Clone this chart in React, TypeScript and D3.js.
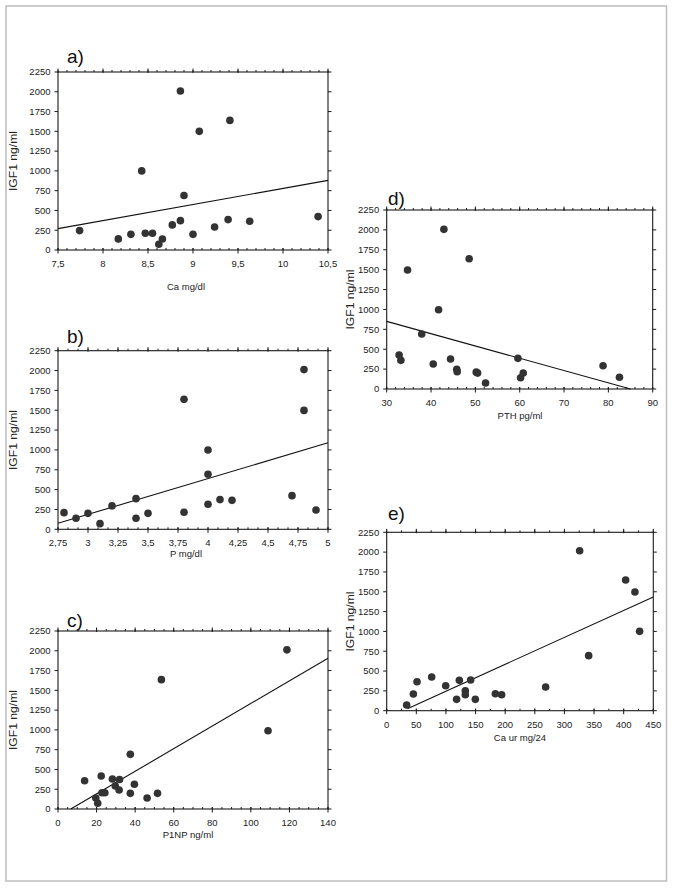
import React from "react";
import * as d3 from "d3";

// IGF1 (ng/ml) vs. each variable
const caX = [7.74, 8.17, 8.31, 8.43, 8.47, 8.55, 8.62, 8.66, 8.77, 8.86, 8.86, 8.9, 9.0, 9.07, 9.24, 9.39, 9.41, 9.63, 10.39];
const caY = [245, 140, 198, 1000, 211, 211, 72, 139, 317, 2010, 371, 688, 198, 1500, 291, 384, 1638, 363, 422];
const caFit = [[7.5, 270], [10.5, 880]];

const pX = [2.8, 2.9, 3.0, 3.1, 3.2, 3.4, 3.4, 3.5, 3.8, 3.8, 4.0, 4.0, 4.0, 4.1, 4.2, 4.7, 4.8, 4.8, 4.9];
const pY = [210, 139, 201, 71, 295, 386, 139, 201, 1637, 214, 999, 693, 315, 374, 365, 424, 2012, 1498, 243];
const pFit = [[2.75, 75], [5, 1090]];

const p1npX = [13.8, 19.6, 20.6, 22.4, 22.8, 24.3, 28.2, 29.7, 31.9, 31.7, 37.5, 37.5, 39.6, 46.2, 51.6, 53.6, 108.9, 118.7];
const p1npY = [358, 139, 72, 417, 206, 206, 379, 291, 372, 240, 691, 198, 312, 139, 198, 1635, 990, 2012];
const p1npFit = [[6.6, 0], [140, 1905]];

const pthX = [32.8, 33.2, 34.7, 37.9, 40.5, 41.7, 42.9, 44.4, 45.8, 45.9, 48.6, 50.2, 50.5, 52.3, 59.6, 60.2, 60.8, 78.8, 82.5];
const pthY = [427, 360, 1496, 691, 314, 997, 2007, 377, 247, 218, 1638, 212, 200, 75, 385, 142, 201, 293, 147];
const pthFit = [[30, 850], [85, 0]];

const caurX = [33.7, 45, 51.2, 75.9, 99.6, 118, 122.6, 132.7, 132.7, 141.7, 149.6, 183.4, 194, 268.3, 325.7, 340.9, 403.3, 419, 426.9];
const caurY = [71, 210, 366, 425, 315, 143, 383, 252, 202, 387, 143, 214, 202, 299, 2018, 694, 1648, 1497, 1001];
const caurFit = [[35, 25], [450, 1435]];

const yTicks = [0, 250, 500, 750, 1000, 1250, 1500, 1750, 2000, 2250];
const caTicks = ["7,5", "8", "8,5", "9", "9,5", "10", "10,5"];
const pTicks = ["2,75", "3", "3,25", "3,5", "3,75", "4", "4,25", "4,5", "4,75", "5"];
const p1npTicks = ["0", "20", "40", "60", "80", "100", "120", "140"];
const pthTicks = ["30", "40", "50", "60", "70", "80", "90"];
const caurTicks = ["0", "50", "100", "150", "200", "250", "300", "350", "400", "450"];

const FONT = "'Liberation Sans', Arial, Helvetica, sans-serif";

type PanelProps = {
  letter: string;
  xs: number[];
  ys: number[];
  fit: number[][];
  tickLabels: string[];
  minorPer: number;
  xLabel: string;
  box: { x0: number; x1: number; y0: number; y1: number };
  letterPos: [number, number];
  xLabelPos: [number, number];
  yLabelX: number;
};

function parseTick(s: string) {
  return parseFloat(s.replace(",", "."));
}

function Panel(p: PanelProps) {
  const vals = p.tickLabels.map(parseTick);
  const xMin = vals[0];
  const xMax = vals[vals.length - 1];
  const x = d3.scaleLinear().domain([xMin, xMax]).range([p.box.x0, p.box.x1]);
  const y = d3.scaleLinear().domain([0, 2250]).range([p.box.y1, p.box.y0]);
  const nMinor = (vals.length - 1) * p.minorPer;
  const minor = d3.range(nMinor + 1).map((i) => xMin + ((xMax - xMin) * i) / nMinor);
  const line = d3.line<number[]>().x((d) => x(d[0])).y((d) => y(d[1]));
  const { x0, x1, y0, y1 } = p.box;
  const ink = "#1a1a1a";
  return (
    <g fontFamily={FONT}>
      <text x={p.letterPos[0]} y={p.letterPos[1]} fontSize={19} fill="#111">{p.letter}</text>
      <rect x={x0} y={y0} width={x1 - x0} height={y1 - y0} fill="none" stroke={ink} strokeWidth={1.1} />
      {minor.map((v, i) => (
        <g key={"m" + i}>
          <line x1={x(v)} x2={x(v)} y1={y0} y2={y0 - 2} stroke={ink} strokeWidth={1} />
          <line x1={x(v)} x2={x(v)} y1={y1} y2={y1 - 2} stroke={ink} strokeWidth={1} />
        </g>
      ))}
      {vals.map((v, i) => (
        <g key={"M" + i}>
          <line x1={x(v)} x2={x(v)} y1={y0 + 1} y2={y0 - 3.5} stroke={ink} strokeWidth={1} />
          <line x1={x(v)} x2={x(v)} y1={y1 - 2} y2={y1 + 3.5} stroke={ink} strokeWidth={1} />
          <text x={x(v)} y={y1 + 13.5} dy="0.35em" textAnchor="middle" fontSize={9.5} fill="#222">
            {p.tickLabels[i]}
          </text>
        </g>
      ))}
      {yTicks.map((v) => (
        <g key={"y" + v}>
          <line x1={x0 - 3.5} x2={x0} y1={y(v)} y2={y(v)} stroke={ink} strokeWidth={1} />
          <line x1={x1} x2={x1 + 3.5} y1={y(v)} y2={y(v)} stroke={ink} strokeWidth={1} />
          <text x={x0 - 7.5} y={y(v)} dy="0.35em" textAnchor="end" fontSize={9.5} fill="#222">
            {v}
          </text>
        </g>
      ))}
      <path d={line(p.fit) || ""} fill="none" stroke="#111" strokeWidth={1.1} />
      {p.xs.map((v, i) => (
        <circle key={"c" + i} cx={x(v)} cy={y(p.ys[i])} r={3.8} fill="#333" />
      ))}
      <text x={p.xLabelPos[0]} y={p.xLabelPos[1]} textAnchor="middle" fontSize={9.5} fill="#222">
        {p.xLabel}
      </text>
      <text
        transform={`translate(${p.yLabelX},${(y0 + y1) / 2}) rotate(-90)`}
        dy="0.35em"
        textAnchor="middle"
        fontSize={10}
        textLength={60}
        lengthAdjust="spacingAndGlyphs"
        fill="#222"
      >
        IGF1 ng/ml
      </text>
    </g>
  );
}

export default function App() {
  return (
    <svg
      width={673}
      height={888}
      style={{ position: "absolute", left: 0, top: 0, background: "#fff" }}
    >
      <rect x={0} y={0} width={673} height={888} fill="#fff" />
      <rect x={6} y={6} width={660.5} height={875} fill="none" stroke="#bdbdbd" strokeWidth={1.5} />
      <Panel
        letter="a)"
        xs={caX}
        ys={caY}
        fit={caFit}
        tickLabels={caTicks}
        minorPer={5}
        xLabel="Ca mg/dl"
        box={{ x0: 58, x1: 328, y0: 72, y1: 250 }}
        letterPos={[67, 63]}
        xLabelPos={[186, 290]}
        yLabelX={13.5}
      />
      <Panel
        letter="b)"
        xs={pX}
        ys={pY}
        fit={pFit}
        tickLabels={pTicks}
        minorPer={3}
        xLabel="P mg/dl"
        box={{ x0: 58, x1: 328, y0: 350.7, y1: 529.3 }}
        letterPos={[67, 343]}
        xLabelPos={[186, 556.5]}
        yLabelX={13.5}
      />
      <Panel
        letter="c)"
        xs={p1npX}
        ys={p1npY}
        fit={p1npFit}
        tickLabels={p1npTicks}
        minorPer={4}
        xLabel="P1NP ng/ml"
        box={{ x0: 58, x1: 328, y0: 631, y1: 809 }}
        letterPos={[67, 627]}
        xLabelPos={[188, 838]}
        yLabelX={13.5}
      />
      <Panel
        letter="d)"
        xs={pthX}
        ys={pthY}
        fit={pthFit}
        tickLabels={pthTicks}
        minorPer={5}
        xLabel="PTH pg/ml"
        box={{ x0: 386.7, x1: 652.7, y0: 210, y1: 389 }}
        letterPos={[388, 205]}
        xLabelPos={[520, 419]}
        yLabelX={350}
      />
      <Panel
        letter="e)"
        xs={caurX}
        ys={caurY}
        fit={caurFit}
        tickLabels={caurTicks}
        minorPer={2}
        xLabel="Ca ur mg/24"
        box={{ x0: 386.7, x1: 653.3, y0: 532.3, y1: 710.7 }}
        letterPos={[388, 520]}
        xLabelPos={[520, 741]}
        yLabelX={350}
      />
    </svg>
  );
}
